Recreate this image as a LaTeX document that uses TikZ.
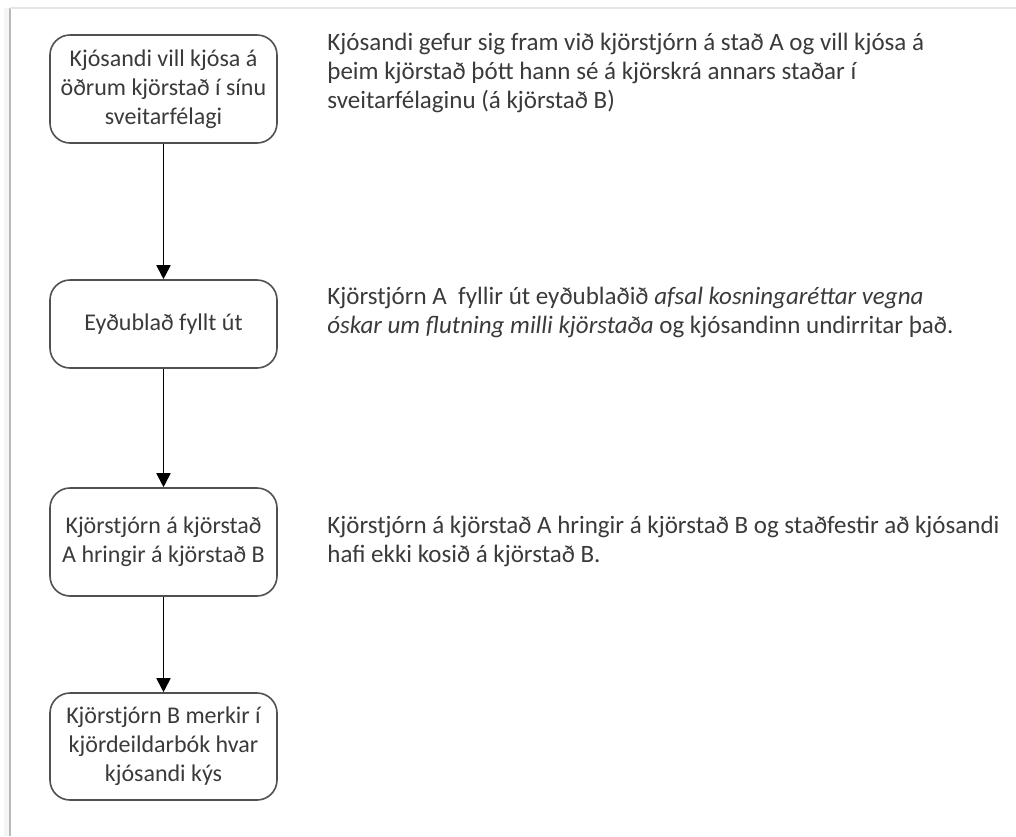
\documentclass[tikz,border=0pt]{standalone}
\usepackage{fontspec}
\setmainfont{Carlito}
\usetikzlibrary{arrows.meta}

\definecolor{textgray}{HTML}{3A3A3A}
\definecolor{linegray}{HTML}{505050}

\tikzset{
  stepbox/.style={draw=linegray, line width=0.8pt, rounded corners=10pt,
    minimum width=113.5pt, align=center,
    text=textgray, font=\fontsize{12}{14.5}\selectfont},
  note/.style={anchor=west, align=left, text=textgray,
    font=\fontsize{12.5}{14.5}\selectfont, inner sep=0pt},
  arr/.style={draw=black, line width=0.9pt, -{Triangle[width=7pt,length=7pt]}}
}

\begin{document}
\begin{tikzpicture}[x=0.5pt,y=-0.5pt]
    % Rammi
    \useasboundingbox (0,0) rectangle (1016,836);
    \fill[gray!8] (4,8) rectangle (10,836);
    \draw[gray!55, line width=1pt] (10,8) -- (10,836);
    \draw[gray!20, line width=1pt] (10,8) -- (1016,8);

    % Kassar
    \node[stepbox, minimum height=54pt] (b1) at (163.5,89)
      {Kjósandi vill kjósa á\\ öðrum kjörstað í sínu\\ sveitarfélagi};
    \node[stepbox, minimum height=44pt] (b2) at (163.5,324)
      {Eyðublað fyllt út};
    \node[stepbox, minimum height=54pt] (b3) at (163.5,542)
      {Kjörstjórn á kjörstað\\ A hringir á kjörstað B};
    \node[stepbox, minimum height=53.5pt] (b4) at (163.5,746.5)
      {Kjörstjórn B merkir í\\ kjördeildarbók hvar\\ kjósandi kýs};

    % Örvar
    \draw[arr] (b1) -- (b2);
    \draw[arr] (b2) -- (b3);
    \draw[arr] (b3) -- (b4);

    % Skýringar
    \node[note] (t1) at (327,73)
      {Kjósandi gefur sig fram við kjörstjórn á stað A og vill kjósa á\\
       þeim kjörstað þótt hann sé á kjörskrá annars staðar í\\
       sveitarfélaginu (á kjörstað B)};
    \node[note] (t2) at (327,312.5)
      {Kjörstjórn A\ \ fyllir út eyðublaðið \textit{afsal kosningaréttar vegna}\\
       \textit{óskar um flutning milli kjörstaða} og kjósandinn undirritar það.};
    \node[note] (t3) at (327,541.5)
      {Kjörstjórn á kjörstað A hringir á kjörstað B og staðfestir að kjósandi\\
       hafi ekki kosið á kjörstað B.};

  \end{tikzpicture}
\end{document}
